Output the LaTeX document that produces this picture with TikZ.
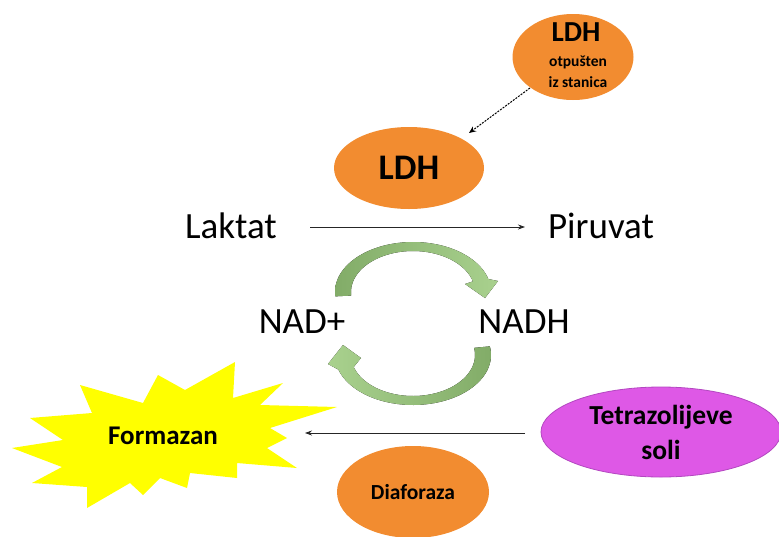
\documentclass[tikz,border=0pt]{standalone}
\usepackage{fontspec}
\setmainfont{Carlito}
\usetikzlibrary{shapes.geometric,arrows.meta}
\definecolor{ldhorange}{HTML}{F28C30}
\definecolor{tetra}{HTML}{DE58E6}
\definecolor{tetraedge}{HTML}{B347C0}
\definecolor{gdark}{HTML}{82AC68}
\definecolor{glight}{HTML}{A9D18E}
\definecolor{starY}{HTML}{FFFF00}
\tikzset{
  blob/.style={ellipse, fill=ldhorange, draw=none, inner sep=0pt, align=center, font=\bfseries},
  lab/.style={inner sep=0pt, font=\fontsize{37}{40}\selectfont},
  conn/.style={-{Stealth[length=7pt,width=5pt]}, line width=0.8pt, black!85},
}
\begin{document}
\begin{tikzpicture}[x=1pt,y=-1pt]
\useasboundingbox (0,0) rectangle (779,536);
% ellipses
\node[blob, minimum width=121pt, minimum height=86pt] (ldhtop) at (573,57) {};
\node[font=\bfseries\fontsize{29}{30}\selectfont, inner sep=0pt] (ldhtopt) at (576,32) {LDH};
\node[font=\bfseries\fontsize{15.5}{21}\selectfont, inner sep=0pt, align=center] (ldhtops) at (578,72) {otpušten\\iz stanica};
\node[blob, minimum width=150pt, minimum height=82pt, font=\bfseries\fontsize{36}{38}\selectfont] (ldh) at (409,168) {LDH};
% dashed arrow
\coordinate (dstart) at (530,88);
\coordinate (dend) at (469,133);
\draw[dashed, dash pattern=on 2pt off 1.2pt, line width=1pt, -{Stealth[length=7pt,width=6pt]}] (dstart) -- (dend);
% labels
\node[lab] (lak) at (231,226) {Laktat};
\node[lab] (pir) at (601,226) {Piruvat};
\node[lab] (nad) at (302,322) {NAD+};
\node[lab] (nadh) at (524,322) {NADH};
\coordinate (a1) at (310,227);
\coordinate (a2) at (525,227);
\draw[conn] (a1) -- (a2);
% green arcs
\fill[left color=gdark, right color=glight, shading angle=90]
  plot[domain=185:15, samples=60, variable=\t] ({413+78*cos(\t)},{292-50*sin(\t)})
  -- (498,281) -- (485,298) -- (465,284) --
  plot[domain=15:185, samples=60, variable=\t] ({413+62*cos(\t)},{292-41*sin(\t)}) -- cycle;
\fill[left color=glight, right color=gdark]
  plot[domain=10:-163, samples=60, variable=\t] ({413+78*cos(\t)},{355-50*sin(\t)})
  -- (328,364) -- (343,345) -- (361,358) --
  plot[domain=-163:10, samples=60, variable=\t] ({413+62*cos(\t)},{355-41*sin(\t)}) -- cycle;
% star
\fill[starY] (12,448) -- (63,440) -- (30,418) -- (92,413) -- (80,385) -- (143,403) -- (158,375) -- (185,390) -- (235,362) -- (233,398) -- (283,383) -- (260,405) -- (337,407) -- (270,428) -- (287,438) -- (267,448) -- (297,468) -- (237,463) -- (237,478) -- (190,473) -- (187,488) -- (160,478) -- (143,495) -- (130,483) -- (87,508) -- (87,487) -- (32,483) -- (62,467) -- cycle;
\node[font=\bfseries\fontsize{27}{30}\selectfont, inner sep=0pt] (form) at (163,436) {Formazan};
% tetrazolium
\node[ellipse, fill=tetra, draw=tetraedge, line width=0.8pt, minimum width=240pt, minimum height=90pt, inner sep=0pt, align=center, font=\bfseries\fontsize{27.5}{35}\selectfont] (tet) at (661,432) {Tetrazolijeve\\soli};
\coordinate (b1) at (525,433);
\coordinate (b2) at (305,433);
\draw[conn] (b1) -- (b2);
% diaforaza
\node[blob, minimum width=152pt, minimum height=92pt, font=\bfseries\fontsize{21.5}{24}\selectfont] (dia) at (413,492) {Diaforaza};
\end{tikzpicture}
\end{document}
